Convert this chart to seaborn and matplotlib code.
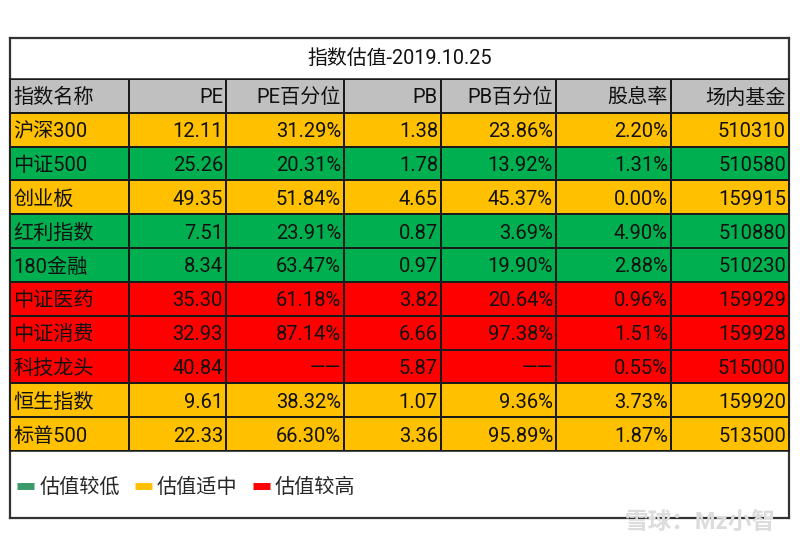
import numpy as np
import pandas as pd
import matplotlib.pyplot as plt
import seaborn as sns
from matplotlib.colors import ListedColormap
from matplotlib.lines import Line2D

# valuation table data
title = '指数估值-2019.10.25'
headers = ['指数名称', 'PE', 'PE百分位', 'PB', 'PB百分位', '股息率', '场内基金']
names = ['沪深300', '中证500', '创业板', '红利指数', '180金融',
         '中证医药', '中证消费', '科技龙头', '恒生指数', '标普500']
pe = [12.11, 25.26, 49.35, 7.51, 8.34, 35.30, 32.93, 40.84, 9.61, 22.33]
pe_pct = [31.29, 20.31, 51.84, 23.91, 63.47, 61.18, 87.14, None, 38.32, 66.30]
pb = [1.38, 1.78, 4.65, 0.87, 0.97, 3.82, 6.66, 5.87, 1.07, 3.36]
pb_pct = [23.86, 13.92, 45.37, 3.69, 19.90, 20.64, 97.38, None, 9.36, 95.89]
dividend = [2.20, 1.31, 0.00, 4.90, 2.88, 0.96, 1.51, 0.55, 3.73, 1.87]
funds = ['510310', '510580', '159915', '510880', '510230',
         '159929', '159928', '515000', '159920', '513500']
# 0 = 估值较低, 1 = 估值适中, 2 = 估值较高
level = [1, 0, 1, 0, 0, 2, 2, 2, 1, 1]
legend_labels = ['估值较低', '估值适中', '估值较高']

sns.set_theme(style='white')
plt.rcParams['font.family'] = ['Roboto', 'Noto Sans CJK SC', 'DejaVu Sans']

green, yellow, red, grey = '#00B050', '#FFC000', '#FF0000', '#C0C0C0'

def pct(v):
    return '——' if v is None else f'{v:.2f}%'

df = pd.DataFrame({
    headers[0]: names,
    headers[1]: [f'{v:.2f}' for v in pe],
    headers[2]: [pct(v) for v in pe_pct],
    headers[3]: [f'{v:.2f}' for v in pb],
    headers[4]: [pct(v) for v in pb_pct],
    headers[5]: [f'{v:.2f}%' for v in dividend],
    headers[6]: funds,
})

# colour codes: header row grey (3), data rows by valuation level
codes = np.array([[3] * len(headers)] + [[lv] * len(headers) for lv in level])
texts = [headers] + df.values.tolist()

fig = plt.figure(figsize=(8, 5.51), dpi=100)
W, H = 800, 551

# outer frame with title row and legend area
ax0 = fig.add_axes([10 / W, 1 - 518 / H, 779 / W, 480 / H])
ax0.set_xticks([])
ax0.set_yticks([])
for s in ax0.spines.values():
    s.set_color('#333333')
    s.set_linewidth(1.6)
ax0.text(0.5, 1 - 20 / 480, title, ha='center', va='center', fontsize=14.3, color='#111111',
         transform=ax0.transAxes)

handles = [Line2D([], [], color=c, lw=5, solid_capstyle='butt')
           for c in ['#3A9A6A', yellow, red]]
ax0.legend(handles, legend_labels, loc='center left', bbox_to_anchor=(5 / 779, 31 / 480),
           ncol=3, frameon=False, fontsize=14.5, handlelength=0.85, handletextpad=0.25,
           columnspacing=0.75, borderaxespad=0.0, borderpad=0.1)

# table body: header + data rows as a heatmap
ax = fig.add_axes([10 / W, 1 - 451 / H, 779 / W, 372 / H])
cmap = ListedColormap([green, yellow, red, grey])
sns.heatmap(codes, ax=ax, cmap=cmap, vmin=-0.5, vmax=3.5, cbar=False,
            linewidths=1.1, linecolor='#1a1a1a', xticklabels=False, yticklabels=False)

# uneven column widths
col_edges = [0, 119, 216, 334, 431, 546, 661, 779]
idx = np.arange(len(col_edges))
fwd = lambda x: np.interp(x, idx, col_edges)
inv = lambda x: np.interp(x, col_edges, idx)
ax.set_xscale('function', functions=(fwd, inv))
ax.set_xlim(0, len(headers))
ax.set_ylim(len(texts), 0)
ax.set_xticks([])
ax.set_yticks([])
ax.minorticks_off()

for i, row in enumerate(texts):
    for j, t in enumerate(row):
        if j == 0:
            ax.text(inv(col_edges[0] + 3), i + 0.5, t, ha='left', va='center_baseline',
                    fontsize=14.5, color='#111111')
        else:
            ax.text(inv(col_edges[j + 1] - 3), i + 0.5, t, ha='right', va='center_baseline',
                    fontsize=14.5, color='#111111')
for s in ax.spines.values():
    s.set_visible(True)
    s.set_color('#1a1a1a')
    s.set_linewidth(1.1)

# watermark
fig.text(776 / W, 1 - 522 / H, '雪球：Mz小智', ha='right', va='center', fontsize=17,
         color='#dcdcdc', fontweight='bold')

fig.savefig('out.png', dpi=100, facecolor='white')
